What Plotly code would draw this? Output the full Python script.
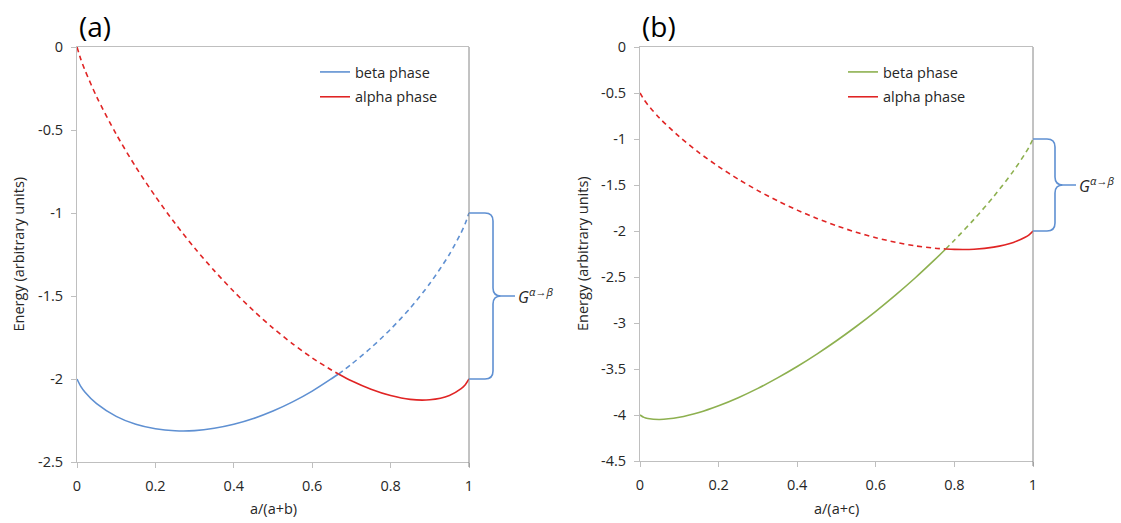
import plotly.graph_objects as go

W, H = 1121, 523

# ---------------- data ----------------
x_a = [0, 0.01, 0.02, 0.05, 0.1, 0.15, 0.2, 0.25, 0.3, 0.35, 0.4, 0.45, 0.5,
       0.55, 0.6, 0.65, 0.667, 0.7, 0.75, 0.8, 0.85, 0.9, 0.95, 0.98, 0.99, 1]
alpha_a = [0, -0.076, -0.138, -0.299, -0.525, -0.723, -0.900, -1.062, -1.211,
           -1.347, -1.473, -1.588, -1.693, -1.788, -1.873, -1.947, -1.970,
           -2.011, -2.062, -2.100, -2.123, -2.125, -2.099, -2.058, -2.036, -2.0]
beta_a = [-2.0, -2.046, -2.078, -2.149, -2.225, -2.273, -2.300, -2.312, -2.311,
          -2.297, -2.273, -2.238, -2.193, -2.138, -2.073, -1.997, -1.970,
          -1.911, -1.812, -1.700, -1.573, -1.425, -1.249, -1.118, -1.066, -1.0]
cross_a = 0.667

x_b = [0, 0.01, 0.02, 0.05, 0.1, 0.15, 0.2, 0.25, 0.3, 0.35, 0.4, 0.45, 0.5,
       0.55, 0.6, 0.65, 0.7, 0.75, 0.778, 0.8, 0.85, 0.9, 0.95, 0.98, 0.99, 1]
alpha_b = [-0.5, -0.571, -0.628, -0.774, -0.975, -1.148, -1.300, -1.437, -1.561,
           -1.672, -1.773, -1.863, -1.943, -2.013, -2.073, -2.122, -2.161,
           -2.187, -2.196, -2.200, -2.198, -2.175, -2.124, -2.068, -2.041, -2.0]
beta_b = [-4.0, -4.026, -4.038, -4.049, -4.025, -3.973, -3.900, -3.812, -3.711,
          -3.597, -3.473, -3.338, -3.193, -3.038, -2.873, -2.697, -2.511,
          -2.312, -2.196, -2.100, -1.873, -1.625, -1.349, -1.158, -1.086, -1.0]
cross_b = 0.778

xticks = [0, 0.2, 0.4, 0.6, 0.8, 1]
xtick_text = ["0", "0.2", "0.4", "0.6", "0.8", "1"]
yticks_a = [0, -0.5, -1, -1.5, -2, -2.5]
ytick_text_a = ["0", "-0.5", "-1", "-1.5", "-2", "-2.5"]
yticks_b = [0, -0.5, -1, -1.5, -2, -2.5, -3, -3.5, -4, -4.5]
ytick_text_b = ["0", "-0.5", "-1", "-1.5", "-2", "-2.5", "-3", "-3.5", "-4", "-4.5"]

series_names = ["beta phase", "alpha phase"]
x_titles = ["a/(a+b)", "a/(a+c)"]
y_title = "Energy (arbitrary units)"
panel_labels = ["(a)", "(b)"]
gap_label = "<i>G</i><sup><i>α→β</i></sup>"

# ---------------- styling ----------------
BLUE = "#5F90D2"
RED = "#E02424"
GREEN = "#8DB04F"
AXIS = "#BFBFBF"
BORDER = "#868686"
TXT = "#262626"
FONT = "Open Sans"
FS = 14.5
DASH = "5px,4px"
LW = 1.6

# plot-area pixel boxes: (left, right, top, bottom)
box_a = (77, 469, 47, 462)
box_b = (640, 1033, 47, 461)
yr_a = (-2.5, 0)
yr_b = (-4.5, 0)


def split(xs, ys, xc):
    lo = [(x, y) for x, y in zip(xs, ys) if x <= xc]
    hi = [(x, y) for x, y in zip(xs, ys) if x >= xc]
    return ([p[0] for p in lo], [p[1] for p in lo]), ([p[0] for p in hi], [p[1] for p in hi])


fig = go.Figure()


def add_panel(xs, alpha, beta, xc, beta_col, xa, ya, legend):
    (bx_lo, by_lo), (bx_hi, by_hi) = split(xs, beta, xc)
    (ax_lo, ay_lo), (ax_hi, ay_hi) = split(xs, alpha, xc)
    common = dict(mode="lines", xaxis=xa, yaxis=ya, hoverinfo="skip")
    fig.add_trace(go.Scatter(x=bx_lo, y=by_lo, name=series_names[0],
                             line=dict(color=beta_col, width=LW, shape="spline", smoothing=0.8),
                             legend=legend, legendgroup=legend + "b", **common))
    fig.add_trace(go.Scatter(x=bx_hi, y=by_hi, showlegend=False,
                             line=dict(color=beta_col, width=LW, dash=DASH, shape="spline", smoothing=0.8),
                             **common))
    fig.add_trace(go.Scatter(x=ax_hi, y=ay_hi, name=series_names[1],
                             line=dict(color=RED, width=LW, shape="spline", smoothing=0.8),
                             legend=legend, legendgroup=legend + "a", **common))
    fig.add_trace(go.Scatter(x=ax_lo, y=ay_lo, showlegend=False,
                             line=dict(color=RED, width=LW, dash=DASH, shape="spline", smoothing=0.8),
                             **common))


add_panel(x_a, alpha_a, beta_a, cross_a, BLUE, "x", "y", "legend")
add_panel(x_b, alpha_b, beta_b, cross_b, GREEN, "x2", "y2", "legend2")


def px(v):
    return v / W


def py(v):
    return 1 - v / H


def xaxis_cfg(box, anchor):
    return dict(domain=[px(box[0]), px(box[1])], range=[0, 1], tickvals=xticks,
                ticktext=xtick_text, ticks="outside", ticklen=5, tickcolor=AXIS,
                showline=True, linecolor=AXIS, linewidth=1, mirror=True,
                showgrid=False, zeroline=False, ticklabelstandoff=6, anchor=anchor,
                automargin=False, tickfont=dict(family=FONT, size=FS, color=TXT),
                fixedrange=True)


def yaxis_cfg(box, yr, tv, tt, anchor):
    return dict(domain=[py(box[3]), py(box[2])], range=list(yr), tickvals=tv,
                ticktext=tt, ticks="outside", ticklen=5, tickcolor=AXIS,
                showline=True, linecolor=AXIS, linewidth=1, mirror=False,
                showgrid=False, zeroline=False, ticklabelstandoff=5, anchor=anchor,
                automargin=False, tickfont=dict(family=FONT, size=FS, color=TXT),
                fixedrange=True)


def to_pix(box, yr, x, y):
    X = box[0] + x * (box[1] - box[0])
    Y = box[2] + (yr[1] - y) / (yr[1] - yr[0]) * (box[3] - box[2])
    return X, Y


def brace(box, yr, y_top, y_bot, xv, xt, r=8):
    xa, yt = to_pix(box, yr, 1, y_top)
    _, yb = to_pix(box, yr, 1, y_bot)
    ym = (yt + yb) / 2
    pts = [("M", [(xa, yt)]), ("L", [(xv - r, yt)]), ("Q", [(xv, yt), (xv, yt + r)]),
           ("L", [(xv, ym - r)]), ("Q", [(xv, ym), (xv + r, ym)]), ("L", [(xt, ym)]),
           ("L", [(xv + r, ym)]), ("Q", [(xv, ym), (xv, ym + r)]),
           ("L", [(xv, yb - r)]), ("Q", [(xv, yb), (xv - r, yb)]), ("L", [(xa, yb)])]
    s = ""
    for cmd, ps in pts:
        s += cmd + " " + " ".join(f"{px(a):.5f},{py(b):.5f}" for a, b in ps) + " "
    return s.strip(), xt, ym


shapes = []
annotations = []
for box, yr, beta, alpha, xv, xt in [(box_a, yr_a, beta_a, alpha_a, 493, 515),
                                      (box_b, yr_b, beta_b, alpha_b, 1055, 1076)]:
    shapes.append(dict(type="line", xref="paper", yref="paper", x0=px(box[1]), x1=px(box[1]),
                       y0=py(box[3] + 5), y1=py(box[2]), line=dict(color=BORDER, width=1)))
    path, tipx, tipy = brace(box, yr, beta[-1], alpha[-1], xv, xt)
    shapes.append(dict(type="path", xref="paper", yref="paper", path=path,
                       line=dict(color=BLUE, width=1.6)))
    annotations.append(dict(xref="paper", yref="paper", x=px(tipx + 1), y=py(tipy),
                            xanchor="left", yanchor="middle", showarrow=False, text=gap_label,
                            font=dict(family=FONT, size=16, color=TXT)))

for box, lab, xt_, ytx in [(box_a, panel_labels[0], x_titles[0], 18),
                           (box_b, panel_labels[1], x_titles[1], 582)]:
    annotations.append(dict(xref="paper", yref="paper", x=px(box[0]), y=py(26),
                            xanchor="left", yanchor="middle", showarrow=False, text=lab,
                            font=dict(family=FONT, size=28, color="#000000")))
    annotations.append(dict(xref="paper", yref="paper", x=px((box[0] + box[1]) / 2), y=py(508),
                            xanchor="center", yanchor="middle", showarrow=False, text=xt_,
                            font=dict(family=FONT, size=FS, color=TXT)))
    annotations.append(dict(xref="paper", yref="paper", x=px(ytx), y=py((box[2] + box[3]) / 2),
                            xanchor="center", yanchor="middle", showarrow=False, text=y_title,
                            textangle=-90, font=dict(family=FONT, size=FS, color=TXT)))

legend_common = dict(font=dict(family=FONT, size=FS, color=TXT), bgcolor="rgba(0,0,0,0)",
                     borderwidth=0, traceorder="grouped", tracegroupgap=3,
                     xanchor="left", yanchor="top", itemclick=False, itemdoubleclick=False)

fig.update_layout(
    width=W, height=H, margin=dict(l=0, r=0, t=0, b=0, autoexpand=False),
    paper_bgcolor="white", plot_bgcolor="white",
    xaxis=xaxis_cfg(box_a, "y"),
    yaxis=yaxis_cfg(box_a, yr_a, yticks_a, ytick_text_a, "x"),
    xaxis2=xaxis_cfg(box_b, "y2"),
    yaxis2=yaxis_cfg(box_b, yr_b, yticks_b, ytick_text_b, "x2"),
    legend=dict(x=px(315), y=py(56), **legend_common),
    legend2=dict(x=px(843), y=py(56), **legend_common),
    shapes=shapes, annotations=annotations, showlegend=True,
)

fig.write_html("out.html", config={"displayModeBar": False})
